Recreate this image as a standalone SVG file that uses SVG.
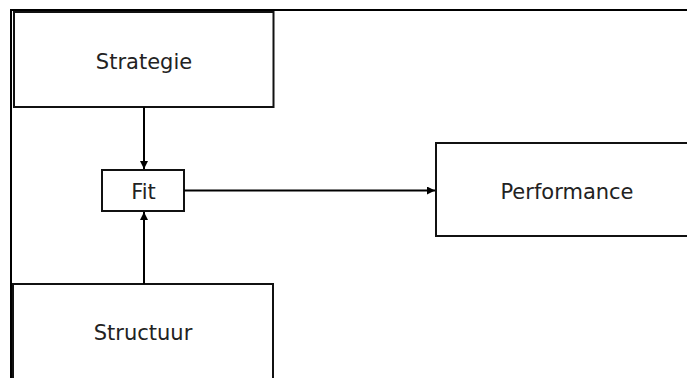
<svg xmlns="http://www.w3.org/2000/svg" width="687" height="378" viewBox="0 0 687 378">
<defs>
<style>
.box{fill:#fff;stroke:#111;stroke-width:2}
.lbl{font-family:"DejaVu Sans",Verdana,sans-serif;font-size:21px;fill:#222;text-anchor:middle}
.con{stroke:#000;stroke-width:2;fill:none}
.frame{stroke:#000;stroke-width:2;fill:none}
</style>
<marker id="arr" viewBox="0 0 8 8" refX="8" refY="4" markerWidth="8" markerHeight="8" markerUnits="userSpaceOnUse" orient="auto">
<path d="M0,0 L8,4 L0,8 z" fill="#000"/>
</marker>
</defs>
<rect width="687" height="378" fill="#fff"/>
<path class="frame" d="M11,378 V10 H687"/>
<g id="strategie">
<rect class="box" x="14" y="12" width="259.5" height="95"/>
<text class="lbl" x="144" y="69">Strategie</text>
</g>
<g id="fit">
<rect class="box" x="102" y="170" width="82" height="41"/>
<text class="lbl" x="143.5" y="199">Fit</text>
</g>
<g id="performance">
<rect class="box" x="436" y="143" width="260" height="93"/>
<text class="lbl" x="567" y="199">Performance</text>
</g>
<g id="structuur">
<rect class="box" x="13" y="284" width="260" height="110"/>
<text class="lbl" x="143" y="340">Structuur</text>
</g>
<g id="connectors">
<line class="con" x1="144" y1="107" x2="144" y2="169" marker-end="url(#arr)"/>
<line class="con" x1="144" y1="284" x2="144" y2="212" marker-end="url(#arr)"/>
<line class="con" x1="184" y1="190.5" x2="435" y2="190.5" marker-end="url(#arr)"/>
</g>
</svg>
